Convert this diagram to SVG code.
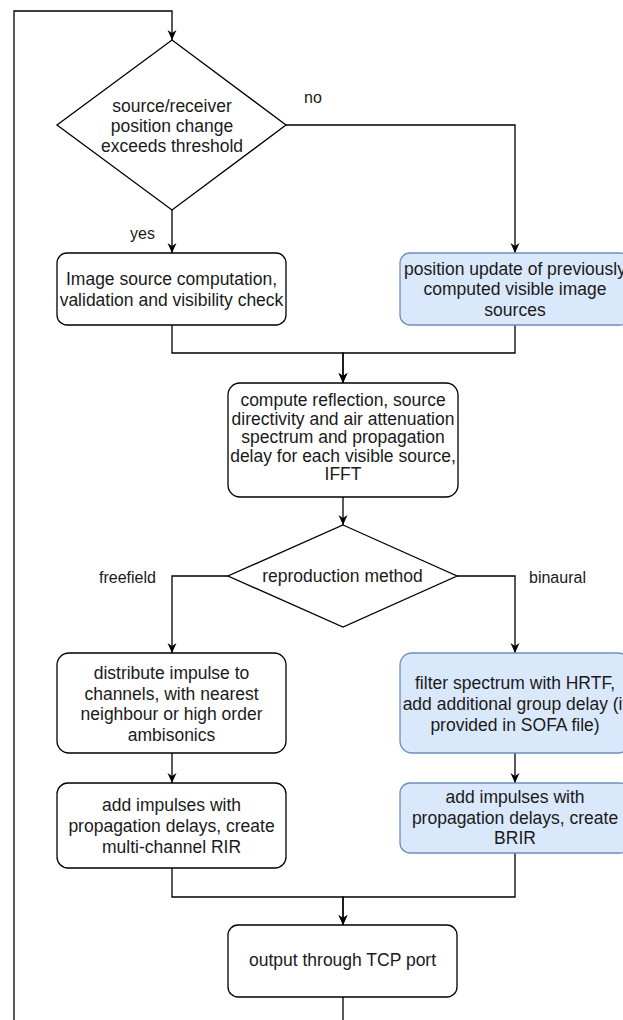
<svg xmlns="http://www.w3.org/2000/svg" width="623" height="1020" viewBox="0 0 623 1020">
<style>
.n{fill:#ffffff;stroke:#000000;stroke-width:1.3}
.b{fill:#dae8fc;stroke:#6c8ebf;stroke-width:1.3}
.t{font-family:"Liberation Sans",Arial,sans-serif;font-size:17.5px;fill:#1a1a1a;text-anchor:middle}
.l{font-family:"Liberation Sans",Arial,sans-serif;font-size:16px;fill:#1a1a1a}
.e{fill:none;stroke:#000000;stroke-width:1.3}
.ea{fill:none;stroke:#000000;stroke-width:1.3;marker-end:url(#arr)}
</style>
<defs>
<marker id="arr" markerUnits="userSpaceOnUse" markerWidth="11" markerHeight="10" refX="10" refY="4.5" orient="auto">
<path d="M0,0 L10,4.5 L0,9 L3,4.5 z" fill="#000000"/>
</marker>
</defs>
<rect width="623" height="1020" fill="#ffffff"/>
<g id="connectors">
<path class="ea" d="M14,1020 V11 H172 V40"/>
<path class="e" d="M343,997 V1020"/>
<path class="ea" d="M172,210 V253"/>
<path class="ea" d="M286,125 H515 V253"/>
<path class="ea" d="M172,325 V353 H343 V383"/>
<path class="ea" d="M515,325 V353 H343 V383"/>
<path class="ea" d="M343,497 V525"/>
<path class="ea" d="M228,576 H172 V653"/>
<path class="ea" d="M457,576 H515 V653"/>
<path class="ea" d="M172,753 V783"/>
<path class="ea" d="M515,753 V783"/>
<path class="ea" d="M172,868 V897 H343 V925"/>
<path class="ea" d="M515,853 V897 H343 V925"/>
<text class="l" x="304" y="103">no</text>
<text class="l" x="130" y="239">yes</text>
<text class="l" x="99" y="583">freefield</text>
<text class="l" x="529" y="583">binaural</text>
</g>
<g id="decision1">
<polygon class="n" points="172,40 286,125 172,210 57,125"/>
<text class="t" x="172" y="112">source/receiver</text>
<text class="t" x="172" y="132">position change</text>
<text class="t" x="172" y="152">exceeds threshold</text>
</g>
<g id="imageSource">
<rect class="n" x="57" y="253" width="229" height="72" rx="10"/>
<text class="t" x="171.5" y="285">Image source computation,</text>
<text class="t" x="171.5" y="306">validation and visibility check</text>
</g>
<g id="positionUpdate">
<rect class="b" x="400" y="253" width="230" height="72" rx="10"/>
<text class="t" x="515" y="275">position update of previously</text>
<text class="t" x="515" y="295">computed visible image</text>
<text class="t" x="515" y="316">sources</text>
</g>
<g id="computeReflection">
<rect class="n" x="228" y="383" width="230" height="114" rx="12"/>
<text class="t" x="343" y="406">compute reflection, source</text>
<text class="t" x="343" y="424.5">directivity and air attenuation</text>
<text class="t" x="343" y="443">spectrum and propagation</text>
<text class="t" x="343" y="461.5">delay for each visible source,</text>
<text class="t" x="343" y="480">IFFT</text>
</g>
<g id="decision2">
<polygon class="n" points="343,525 457,576 343,627 228,576"/>
<text class="t" x="342.5" y="582">reproduction method</text>
</g>
<g id="distribute">
<rect class="n" x="57" y="653" width="229" height="100" rx="12"/>
<text class="t" x="171.5" y="679">distribute impulse to</text>
<text class="t" x="171.5" y="699.5">channels, with nearest</text>
<text class="t" x="171.5" y="720">neighbour or high order</text>
<text class="t" x="171.5" y="740.5">ambisonics</text>
</g>
<g id="filterHRTF">
<rect class="b" x="400" y="653" width="230" height="100" rx="12"/>
<text class="t" x="515" y="689">filter spectrum with HRTF,</text>
<text class="t" x="515" y="710">add additional group delay (if</text>
<text class="t" x="515" y="731">provided in SOFA file)</text>
</g>
<g id="multiRIR">
<rect class="n" x="57" y="783" width="229" height="85" rx="11"/>
<text class="t" x="171.5" y="811">add impulses with</text>
<text class="t" x="171.5" y="832">propagation delays, create</text>
<text class="t" x="171.5" y="853">multi-channel RIR</text>
</g>
<g id="brir">
<rect class="b" x="400" y="783" width="230" height="70" rx="10"/>
<text class="t" x="515" y="803">add impulses with</text>
<text class="t" x="515" y="824">propagation delays, create</text>
<text class="t" x="515" y="844">BRIR</text>
</g>
<g id="output">
<rect class="n" x="228" y="925" width="229" height="72" rx="10"/>
<text class="t" x="342.5" y="966">output through TCP port</text>
</g>
</svg>
